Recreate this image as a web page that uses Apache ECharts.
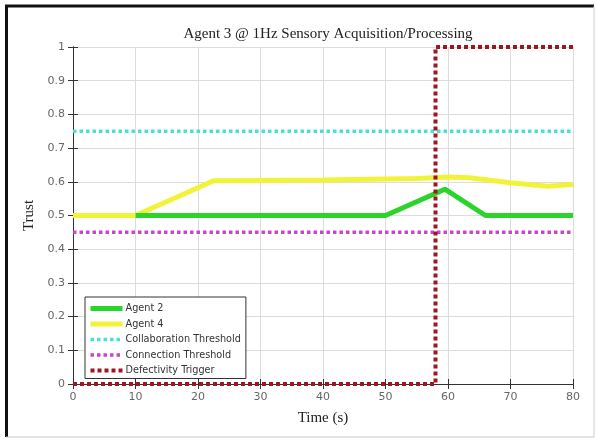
<!DOCTYPE html>
<html><head><meta charset="utf-8">
<script src="https://cdn.jsdelivr.net/npm/echarts@6/dist/echarts.min.js"></script>
<style>html,body{margin:0;padding:0;background:#fff}#c{width:597px;height:439px}</style>
</head><body><div id="c"></div>
<script>
const xTicks = [0,10,20,30,40,50,60,70,80];
const yTicks = [0,0.1,0.2,0.3,0.4,0.5,0.6,0.7,0.8,0.9,1];
const agent2 = [[10,0.5],[50,0.5],[59.5,0.578],[66,0.5],[80,0.5]];
const agent4 = [[0,0.5],[10,0.5],[22.5,0.603],[40,0.605],[55,0.61],[60,0.614],[63.5,0.612],[70,0.597],[76,0.587],[80,0.592]];
const collab = [[0,0.75],[80,0.75]];
const connect = [[0,0.45],[80,0.45]];
const defect = [[0,0],[58,0],[58,1],[80,1]];
const names = ['Agent 2','Agent 4','Collaboration Threshold','Connection Threshold','Defectivity Trigger'];
const colors = ['#2ad42a','#f2f23a','#48dede','#c847c8','#9e1620'];

const chart = echarts.init(document.getElementById('c'));
const axCommon = {
  axisLine:{show:true,lineStyle:{color:'#333',width:1}},
  axisTick:{show:true,inside:true,length:5,lineStyle:{color:'#333'}},
  splitLine:{show:true,lineStyle:{color:'#dcdcdc',width:1}},
  axisLabel:{color:'#666',fontFamily:'DejaVu Sans',fontSize:11}
};
const legendStyles = [
  {width:5,type:'solid'},{width:5,type:'solid'},
  {width:3.5,type:[3.5,3]},{width:3.5,type:[3.5,3]},{width:4,type:[4,3]}
];
chart.setOption({
  animation:false,
  title:{text:'Agent 3 @ 1Hz Sensory Acquisition/Processing',left:323,textAlign:'center',top:22,
    textStyle:{fontFamily:'Liberation Serif',fontWeight:'normal',fontSize:15,color:'#222'}},
  grid:{left:73,right:24,top:47,bottom:55,show:false},
  legend:{data:names.map((n,i)=>({name:n,itemStyle:{opacity:0},lineStyle:{color:colors[i],width:legendStyles[i].width,type:legendStyles[i].type,cap:'butt'}})),
    orient:'vertical',left:85,top:297,itemWidth:32,itemHeight:12,itemGap:5.5,
    backgroundColor:'#fff',borderColor:'#333',borderWidth:1,padding:[6.5,5,3,3],
    textStyle:{fontFamily:'DejaVu Sans',fontSize:9.7,color:'#333',padding:[0,0,0,-2]}},
  xAxis:[{type:'value',min:0,max:80,interval:10,name:'Time (s)',nameLocation:'middle',nameGap:27,
    nameTextStyle:{fontFamily:'Liberation Serif',fontSize:15,color:'#222'},...axCommon},
    {type:'value',position:'top',min:0,max:80,interval:10,...axCommon,axisLabel:{show:false},splitLine:{show:false}}],
  yAxis:[{type:'value',min:0,max:1,interval:0.1,name:'Trust',nameLocation:'middle',nameGap:30,
    nameTextStyle:{fontFamily:'Liberation Serif',fontSize:15,color:'#222'},...axCommon,
    axisLabel:{color:'#666',fontFamily:'DejaVu Sans',fontSize:11,formatter:v=>String(+v.toFixed(1))}},
    {type:'value',position:'right',min:0,max:1,interval:0.1,...axCommon,axisLabel:{show:false},splitLine:{show:false}}],
  series:[
    {name:names[0],type:'line',data:agent2,symbol:'none',z:3,lineStyle:{color:colors[0],width:5},itemStyle:{color:colors[0]}},
    {name:names[1],type:'line',data:agent4,symbol:'none',z:2,lineStyle:{color:colors[1],width:5},itemStyle:{color:colors[1]}},
    {name:names[2],type:'line',data:collab,symbol:'none',lineStyle:{color:colors[2],width:3.5,type:[3.5,3],cap:'butt'},itemStyle:{color:colors[2]}},
    {name:names[3],type:'line',data:connect,symbol:'none',lineStyle:{color:colors[3],width:3.5,type:[3.5,3],cap:'butt'},itemStyle:{color:colors[3]}},
    {name:names[4],type:'line',data:defect,symbol:'none',z:4,lineStyle:{color:colors[4],width:4,type:[4,3],cap:'butt'},itemStyle:{color:colors[4]}}
  ],
  graphic:[
    {type:'line',shape:{x1:6.5,y1:5,x2:6.5,y2:437},style:{stroke:'#111',lineWidth:3},silent:true},
    {type:'line',shape:{x1:5,y1:6,x2:594,y2:6},style:{stroke:'#111',lineWidth:3},silent:true},
    {type:'line',shape:{x1:594,y1:6,x2:594,y2:437},style:{stroke:'#d0d0d0',lineWidth:1},silent:true},
    {type:'line',shape:{x1:6,y1:437,x2:594,y2:437},style:{stroke:'#c8c8c8',lineWidth:1},silent:true}
  ]
});
</script></body></html>
